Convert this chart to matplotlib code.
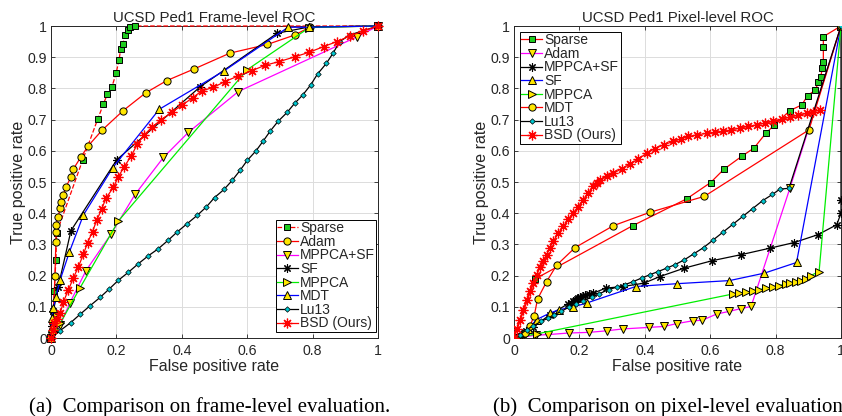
import matplotlib
matplotlib.use("Agg")
import matplotlib.pyplot as plt

plt.rcParams['font.family'] = ['Liberation Sans', 'DejaVu Sans']

# ---------------- Frame-level data ----------------
f_sparse_x = [0, 0.005, 0.01, 0.015, 0.017, 0.097, 0.143, 0.16, 0.172, 0.186, 0.199, 0.208, 0.213, 0.219, 0.227, 0.236, 0.243, 0.256, 1.0]
f_sparse_y = [0, 0.05, 0.15, 0.25, 0.336, 0.571, 0.702, 0.749, 0.781, 0.804, 0.848, 0.891, 0.925, 0.941, 0.97, 0.987, 0.996, 1.0, 1.0]

f_adam_x = [0, 0.004, 0.008, 0.012, 0.015, 0.015, 0.015, 0.022, 0.028, 0.031, 0.038, 0.046, 0.061, 0.068, 0.092, 0.114, 0.157, 0.221, 0.29, 0.354, 0.437, 0.547, 0.662, 0.745, 0.791, 1.0]
f_adam_y = [0, 0.02, 0.08, 0.2, 0.309, 0.341, 0.362, 0.389, 0.416, 0.437, 0.458, 0.485, 0.515, 0.541, 0.581, 0.616, 0.667, 0.729, 0.786, 0.825, 0.862, 0.913, 0.941, 0.971, 0.996, 1.0]

f_mppcasf_x = [0, 0.01, 0.028, 0.058, 0.107, 0.183, 0.257, 0.344, 0.42, 0.573, 0.935, 1.0]
f_mppcasf_y = [0, 0.02, 0.042, 0.113, 0.216, 0.332, 0.46, 0.579, 0.659, 0.79, 0.965, 1.0]

f_sf_x = [0, 0.003, 0.007, 0.022, 0.061, 0.201, 0.456, 0.692, 0.79, 1.0]
f_sf_y = [0, 0.04, 0.085, 0.164, 0.344, 0.571, 0.805, 0.977, 0.997, 1.0]

f_mppca_x = [0, 0.01, 0.028, 0.089, 0.206, 0.6, 0.79, 1.0]
f_mppca_y = [0, 0.02, 0.047, 0.161, 0.375, 0.86, 0.995, 1.0]

f_mdt_x = [0, 0.002, 0.003, 0.007, 0.015, 0.028, 0.056, 0.099, 0.189, 0.331, 0.529, 0.725, 0.79, 1.0]
f_mdt_y = [0, 0.032, 0.064, 0.095, 0.132, 0.186, 0.275, 0.394, 0.546, 0.733, 0.856, 0.996, 0.996, 1.0]

f_lu_x = [0, 0.027, 0.06, 0.089, 0.119, 0.15, 0.178, 0.206, 0.237, 0.267, 0.297, 0.328, 0.358, 0.386, 0.416, 0.447, 0.475, 0.5, 0.529, 0.554, 0.578, 0.6, 0.627, 0.648, 0.671, 0.694, 0.722, 0.745, 0.77, 0.794, 0.815, 0.842, 0.862, 0.883, 0.913, 1.0]
f_lu_y = [0, 0.023, 0.049, 0.076, 0.103, 0.13, 0.157, 0.185, 0.211, 0.238, 0.263, 0.286, 0.313, 0.34, 0.366, 0.393, 0.42, 0.45, 0.476, 0.505, 0.537, 0.569, 0.6, 0.63, 0.664, 0.694, 0.723, 0.752, 0.779, 0.811, 0.846, 0.88, 0.912, 0.95, 0.971, 1.0]

f_bsd_x = [0, 0.005, 0.01, 0.018, 0.028, 0.038, 0.053, 0.068, 0.084, 0.099, 0.112, 0.127, 0.14, 0.155, 0.168, 0.191, 0.206, 0.224, 0.245, 0.264, 0.285, 0.308, 0.336, 0.369, 0.402, 0.433, 0.461, 0.496, 0.532, 0.573, 0.615, 0.654, 0.698, 0.745, 0.79, 0.834, 0.874, 0.914, 0.955, 1.0]
f_bsd_y = [0, 0.025, 0.047, 0.062, 0.079, 0.116, 0.154, 0.191, 0.229, 0.268, 0.306, 0.341, 0.378, 0.413, 0.448, 0.483, 0.517, 0.549, 0.583, 0.621, 0.651, 0.675, 0.699, 0.723, 0.747, 0.77, 0.792, 0.803, 0.822, 0.84, 0.857, 0.874, 0.886, 0.901, 0.916, 0.934, 0.95, 0.968, 0.984, 1.0]

# ---------------- Pixel-level data ----------------
p_sparse_x = [0, 0.064, 0.363, 0.528, 0.601, 0.642, 0.696, 0.734, 0.77, 0.796, 0.844, 0.88, 0.898, 0.922, 0.931, 0.938, 0.943, 0.946, 0.946, 0.946, 1.0]
p_sparse_y = [0, 0.189, 0.36, 0.446, 0.498, 0.541, 0.582, 0.609, 0.656, 0.683, 0.729, 0.747, 0.777, 0.795, 0.822, 0.838, 0.865, 0.886, 0.934, 0.966, 1.0]

p_adam_x = [0, 0.023, 0.067, 0.105, 0.168, 0.229, 0.283, 0.332, 0.413, 0.459, 0.497, 0.546, 0.576, 0.62, 0.657, 0.693, 0.725, 0.844, 1.0]
p_adam_y = [0, 0.003, 0.009, 0.011, 0.016, 0.018, 0.023, 0.029, 0.034, 0.037, 0.046, 0.055, 0.057, 0.077, 0.085, 0.094, 0.101, 0.481, 1.0]

p_mppcasf_x = [0, 0.018, 0.037, 0.059, 0.11, 0.166, 0.175, 0.181, 0.187, 0.192, 0.197, 0.202, 0.21, 0.217, 0.23, 0.243, 0.281, 0.334, 0.398, 0.446, 0.521, 0.607, 0.694, 0.783, 0.857, 0.929, 0.987, 1.0, 1.0, 1.0]
p_mppcasf_y = [0, 0.008, 0.021, 0.035, 0.075, 0.11, 0.112, 0.117, 0.12, 0.125, 0.128, 0.133, 0.135, 0.139, 0.141, 0.144, 0.16, 0.165, 0.176, 0.197, 0.224, 0.248, 0.267, 0.288, 0.306, 0.331, 0.363, 0.40, 0.443, 1.0]

p_sf_x = [0, 0.023, 0.044, 0.069, 0.11, 0.139, 0.179, 0.222, 0.372, 0.497, 0.659, 0.766, 0.864, 1.0]
p_sf_y = [0, 0.016, 0.03, 0.059, 0.08, 0.091, 0.099, 0.112, 0.165, 0.174, 0.184, 0.208, 0.242, 1.0]

p_mppca_x = [0, 0.069, 0.669, 0.688, 0.709, 0.73, 0.75, 0.771, 0.791, 0.811, 0.832, 0.844, 0.862, 0.878, 0.892, 0.907, 0.933, 1.0]
p_mppca_y = [0, 0.013, 0.141, 0.144, 0.146, 0.152, 0.155, 0.159, 0.162, 0.168, 0.173, 0.176, 0.179, 0.184, 0.189, 0.2, 0.213, 1.0]

p_mdt_x = [0, 0.034, 0.049, 0.062, 0.072, 0.1, 0.13, 0.187, 0.304, 0.416, 0.582, 0.902, 1.0]
p_mdt_y = [0, 0.016, 0.039, 0.072, 0.125, 0.181, 0.233, 0.29, 0.36, 0.403, 0.454, 0.667, 1.0]

p_lu_x = [0, 0.018, 0.039, 0.059, 0.083, 0.105, 0.123, 0.144, 0.168, 0.19, 0.212, 0.238, 0.261, 0.289, 0.314, 0.339, 0.365, 0.39, 0.416, 0.441, 0.467, 0.492, 0.52, 0.55, 0.58, 0.61, 0.64, 0.67, 0.70, 0.73, 0.76, 0.79, 0.813, 0.841, 1.0]
p_lu_y = [0, 0.011, 0.027, 0.039, 0.053, 0.064, 0.075, 0.085, 0.099, 0.11, 0.12, 0.131, 0.142, 0.155, 0.163, 0.171, 0.181, 0.192, 0.203, 0.213, 0.224, 0.235, 0.25, 0.27, 0.29, 0.315, 0.34, 0.365, 0.39, 0.415, 0.44, 0.46, 0.477, 0.48, 1.0]

p_bsd_x = [0, 0.009, 0.018, 0.028, 0.039, 0.049, 0.059, 0.07, 0.08, 0.09, 0.1, 0.11, 0.12, 0.135, 0.151, 0.166, 0.181, 0.196, 0.212, 0.227, 0.243, 0.253, 0.263, 0.283, 0.304, 0.33, 0.355, 0.38, 0.406, 0.43, 0.46, 0.487, 0.51, 0.533, 0.56, 0.589, 0.615, 0.64, 0.665, 0.691, 0.716, 0.742, 0.768, 0.793, 0.82, 0.844, 0.87, 0.895, 0.915, 0.936]
p_bsd_y = [0, 0.03, 0.059, 0.09, 0.123, 0.15, 0.176, 0.203, 0.229, 0.248, 0.267, 0.29, 0.31, 0.335, 0.358, 0.38, 0.4, 0.42, 0.443, 0.465, 0.486, 0.497, 0.507, 0.518, 0.528, 0.543, 0.558, 0.574, 0.592, 0.607, 0.62, 0.63, 0.638, 0.646, 0.651, 0.656, 0.659, 0.662, 0.667, 0.673, 0.678, 0.683, 0.689, 0.694, 0.701, 0.708, 0.714, 0.72, 0.725, 0.731]

labels = ['Sparse', 'Adam', 'MPPCA+SF', 'SF', 'MPPCA', 'MDT', 'Lu13', 'BSD (Ours)']
titles = ['UCSD Ped1 Frame-level ROC', 'UCSD Ped1 Pixel-level ROC']
captions = ['(a)  Comparison on frame-level evaluation.', '(b)  Comparison on pixel-level evaluation.']
xticks = [0, 0.2, 0.4, 0.6, 0.8, 1]
xticklabels = ['0', '0.2', '0.4', '0.6', '0.8', '1']
yticks = [0, 0.1, 0.2, 0.3, 0.4, 0.5, 0.6, 0.7, 0.8, 0.9, 1]
yticklabels = ['0', '0.1', '0.2', '0.3', '0.4', '0.5', '0.6', '0.7', '0.8', '0.9', '1']

RED = '#ff0000'
GREEN_FACE = '#1fcc1f'
YEL = '#ffe600'
MAG = '#ff00ff'
BLUE = '#0000ff'
LGREEN = '#00ee00'
CYAN = '#00c8d0'
AST = (8, 2, 0)
LW = 0.9
MEW = 0.7
TXT = '#262626'

fig = plt.figure(figsize=(8.42, 4.16), dpi=100)
ax1 = fig.add_axes([51 / 842, 78 / 416, 327 / 842, 312 / 416])
ax2 = fig.add_axes([514 / 842, 78 / 416, 327 / 842, 312 / 416])

def style(ax, title):
    ax.set_xlim(0, 1)
    ax.set_ylim(0, 1)
    ax.set_xticks(xticks)
    ax.set_xticklabels(xticklabels)
    ax.set_yticks(yticks)
    ax.set_yticklabels(yticklabels)
    ax.grid(True, color='#dcdcdc', linewidth=0.7)
    ax.set_axisbelow(True)
    ax.tick_params(direction='in', length=3, width=0.6, top=True, right=True,
                   labelsize=10.2, colors=TXT)
    ax.tick_params(axis='x', pad=4)
    ax.tick_params(axis='y', pad=3)
    for s in ax.spines.values():
        s.set_linewidth(0.7)
        s.set_color(TXT)
    ax.set_title(title, fontsize=10.8, pad=3, color=TXT)
    ax.set_xlabel('False positive rate', fontsize=11.5, labelpad=1, color=TXT)
    ax.set_ylabel('True positive rate', fontsize=11.5, labelpad=1, color=TXT)

def add_legend(ax, loc, anchor):
    leg = ax.legend(loc=loc, bbox_to_anchor=anchor, borderaxespad=0, fontsize=10,
                    frameon=True, fancybox=False, edgecolor='black', framealpha=1,
                    labelspacing=-0.03, borderpad=0.1, handlelength=1.5, handletextpad=0.15)
    leg.get_frame().set_linewidth(0.7)
    leg.set_zorder(10)
    for t in leg.get_texts():
        t.set_color(TXT)

# ---- Frame-level ----
ax = ax1
ax.plot(f_sparse_x, f_sparse_y, '--', color=RED, lw=LW, marker='s', ms=4.5, mfc=GREEN_FACE, mec='black', mew=MEW, label=labels[0], clip_on=False, zorder=3)
ax.plot(f_adam_x, f_adam_y, '-', color=RED, lw=LW, marker='o', ms=5.2, mfc=YEL, mec='black', mew=MEW, label=labels[1], clip_on=False, zorder=3)
ax.plot(f_mppcasf_x, f_mppcasf_y, '-', color=MAG, lw=LW, marker='v', ms=5.5, mfc=YEL, mec='black', mew=MEW, label=labels[2], clip_on=False, zorder=3)
ax.plot(f_sf_x, f_sf_y, '-', color='black', lw=LW, marker=AST, ms=6, mec='black', mew=0.8, label=labels[3], clip_on=False, zorder=3)
ax.plot(f_mppca_x, f_mppca_y, '-', color=LGREEN, lw=LW, marker='>', ms=5.5, mfc=YEL, mec='black', mew=MEW, label=labels[4], clip_on=False, zorder=3)
ax.plot(f_mdt_x, f_mdt_y, '-', color=BLUE, lw=LW, marker='^', ms=5.5, mfc=YEL, mec='black', mew=MEW, label=labels[5], clip_on=False, zorder=3)
ax.plot(f_lu_x, f_lu_y, '-', color='black', lw=LW, marker='D', ms=2.8, mfc=CYAN, mec='black', mew=0.5, label=labels[6], clip_on=False, zorder=3)
ax.plot(f_bsd_x, f_bsd_y, '-', color=RED, lw=LW, marker=AST, ms=7, mec=RED, mew=0.9, label=labels[7], clip_on=False, zorder=3)
style(ax, titles[0])
add_legend(ax, 'lower right', (0.995, 0.02))

# ---- Pixel-level ----
ax = ax2
ax.plot(p_sparse_x, p_sparse_y, '-', color=RED, lw=LW, marker='s', ms=4.5, mfc=GREEN_FACE, mec='black', mew=MEW, label=labels[0], zorder=3)
ax.plot(p_adam_x, p_adam_y, '-', color=MAG, lw=LW, marker='v', ms=5.5, mfc=YEL, mec='black', mew=MEW, label=labels[1], zorder=3)
ax.plot(p_mppcasf_x, p_mppcasf_y, '-', color='black', lw=LW, marker=AST, ms=6, mec='black', mew=0.8, label=labels[2], zorder=3)
ax.plot(p_sf_x, p_sf_y, '-', color=BLUE, lw=LW, marker='^', ms=5.5, mfc=YEL, mec='black', mew=MEW, label=labels[3], zorder=3)
ax.plot(p_mppca_x, p_mppca_y, '-', color=LGREEN, lw=LW, marker='>', ms=5.5, mfc=YEL, mec='black', mew=MEW, label=labels[4], zorder=3)
ax.plot(p_mdt_x, p_mdt_y, '-', color=RED, lw=LW, marker='o', ms=5.2, mfc=YEL, mec='black', mew=MEW, label=labels[5], zorder=3)
ax.plot(p_lu_x, p_lu_y, '-', color='black', lw=LW, marker='D', ms=2.8, mfc=CYAN, mec='black', mew=0.5, label=labels[6], zorder=3)
ax.plot(p_bsd_x, p_bsd_y, '-', color=RED, lw=LW, marker=AST, ms=7, mec=RED, mew=0.9, label=labels[7], zorder=3)
style(ax, titles[1])
add_legend(ax, 'upper left', (0.018, 0.981))

fig.text(29 / 842, 1 - 412 / 416, captions[0], ha='left', va='baseline', fontsize=15,
         family=['Liberation Serif', 'DejaVu Serif'])
fig.text(493 / 842, 1 - 412 / 416, captions[1], ha='left', va='baseline', fontsize=15,
         family=['Liberation Serif', 'DejaVu Serif'])

fig.savefig('out.png', dpi=100)
